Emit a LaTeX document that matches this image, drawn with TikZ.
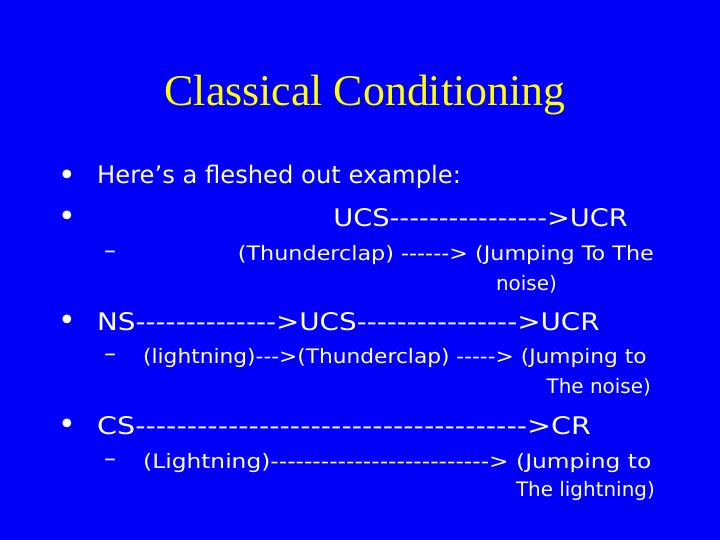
\documentclass[tikz,border=0pt]{standalone}
\usepackage{fontspec}
\newfontfamily\bodyfont{DejaVu Sans}
\newfontfamily\titlefont{Liberation Serif}
\definecolor{slideblue}{RGB}{0,0,250}
\definecolor{slideyellow}{RGB}{255,255,0}
\begin{document}
\begin{tikzpicture}[x=1bp,y=-1bp,
  big/.style={text=white,font=\bodyfont\fontsize{24.3}{27}\selectfont,inner sep=0pt},
  small/.style={text=white,font=\bodyfont\fontsize{20}{23}\selectfont,inner sep=0pt},
  bul/.style={text=white,font=\bodyfont\fontsize{30}{30}\selectfont,inner sep=0pt},
  dsh/.style={text=white,font=\bodyfont\fontsize{24}{24}\selectfont,inner sep=0pt}]
\fill[slideblue] (0,0) rectangle (720,540);
\useasboundingbox (0,0) rectangle (720,540);
\node[text=slideyellow,font=\titlefont\fontsize{44}{48}\selectfont] (title) at (365,95) {Classical Conditioning};
\node[bul] (b1) at (67,178) {•};
\node[big,anchor=west] (t1) at (97,177) {Here’s a fleshed out example:};
\node[bul] (b2) at (67,219) {•};
\node[big,anchor=east] (t2) at (628,218) {\scalebox{1.126}[1]{UCS---------------->UCR}};
\node[dsh] (d1) at (110,255) {–};
\node[small,anchor=east] (t3) at (654,255) {\scalebox{1.118}[1]{(Thunderclap) ------> (Jumping To The}};
\node[small,anchor=east] (t3b) at (557,284) {noise)};
\node[bul] (b3) at (67,323) {•};
\node[big,anchor=west] (t4) at (97,322) {\scalebox{1.148}[1]{NS-------------->UCS---------------->UCR}};
\node[dsh] (d2) at (110,358) {–};
\node[small,anchor=west] (t5) at (143,358) {\scalebox{1.09}[1]{(lightning)--->(Thunderclap) -----> (Jumping to}};
\node[small,anchor=east] (t5b) at (651,387) {The noise)};
\node[bul] (b4) at (67,427) {•};
\node[big,anchor=west] (t6) at (97,426) {\scalebox{1.18}[1]{CS-------------------------------------->CR}};
\node[dsh] (d3) at (110,463) {–};
\node[small,anchor=west] (t7) at (143,463) {\scalebox{1.17}[1]{(Lightning)--------------------------> (Jumping to}};
\node[small,anchor=east] (t7b) at (655,491) {The lightning)};
\end{tikzpicture}
\end{document}
